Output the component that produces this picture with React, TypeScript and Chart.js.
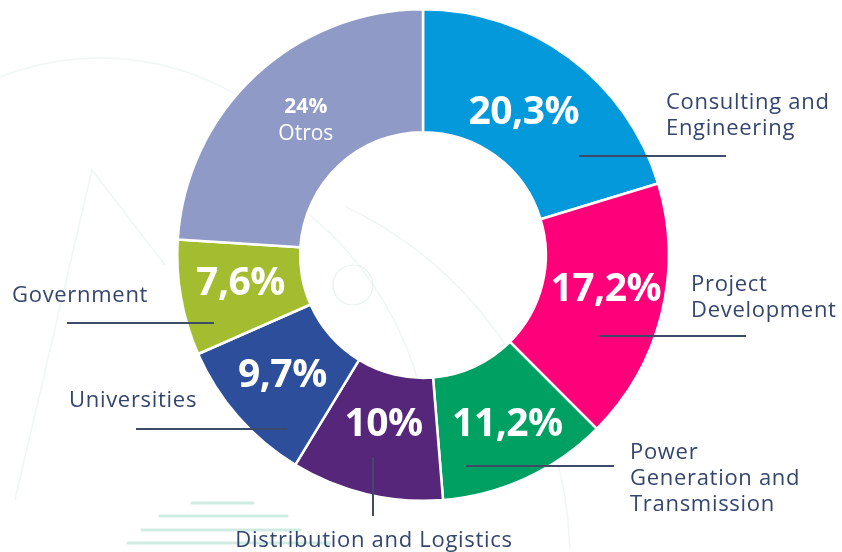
import React, { useEffect, useRef } from "react";
import { Chart, registerables } from "chart.js";

Chart.register(...registerables);

const categories = [
  "Consulting and Engineering",
  "Project Development",
  "Power Generation and Transmission",
  "Distribution and Logistics",
  "Universities",
  "Government",
  "Otros",
];
const values = [20.3, 17.2, 11.2, 10, 9.7, 7.6, 24];
const valueLabels = ["20,3%", "17,2%", "11,2%", "10%", "9,7%", "7,6%", "24%"];
const colors = ["#0399DB", "#FE0079", "#00A062", "#55267A", "#2D4E9A", "#A4BD30", "#8F9AC6"];

const outerLabelLines = [
  ["Consulting and", "Engineering"],
  ["Project", "Development"],
  ["Power", "Generation and", "Transmission"],
  ["Distribution and Logistics"],
  ["Universities"],
  ["Government"],
  [],
];

// annotation layout relative to chart centre (styling)
const labelOffsets = [
  { dx: -9, dy: 6 },
  { dx: 4, dy: -10 },
  { dx: 7, dy: 3 },
  { dx: 3, dy: -9 },
  { dx: -2, dy: -1 },
  { dx: -1, dy: -3 },
  { dx: 9, dy: 0 },
];
const outerText = [
  { x: 243, y: -152, align: "left" },
  { x: 268, y: 30, align: "left" },
  { x: 207, y: 198, align: "left" },
  { x: -49, y: 286, align: "center" },
  { x: -354, y: 146, align: "left" },
  { x: -411, y: 41, align: "left" },
  null,
];
const leaders = [
  { x1: 156, y1: -99, x2: 303, y2: -99 },
  { x1: 176, y1: 81, x2: 323, y2: 81 },
  { x1: 43, y1: 211, x2: 191, y2: 211 },
  { x1: -50, y1: 202, x2: -50, y2: 261 },
  { x1: -287, y1: 174, x2: -136, y2: 174 },
  { x1: -356, y1: 68, x2: -209, y2: 68 },
  null,
];

const decoPlugin = {
  id: "deco",
  beforeDraw(chart: any) {
    const ctx = chart.ctx;
    ctx.save();
    ctx.fillStyle = "#ffffff";
    ctx.fillRect(0, 0, chart.width, chart.height);
    ctx.strokeStyle = "rgba(220,235,232,0.45)";
    ctx.lineWidth = 1.5;
    ctx.beginPath();
    ctx.arc(100, 330, 272, Math.PI * 1.02, Math.PI * 1.75);
    ctx.stroke();
    ctx.beginPath();
    ctx.arc(100, 470, 330, Math.PI * 1.64, Math.PI * 1.98);
    ctx.stroke();
    ctx.beginPath();
    ctx.arc(180, 560, 390, Math.PI * 1.64, Math.PI * 1.99);
    ctx.stroke();
    ctx.beginPath();
    ctx.moveTo(15, 500);
    ctx.lineTo(92, 170);
    ctx.lineTo(165, 265);
    ctx.stroke();
    ctx.strokeStyle = "rgba(196,230,218,0.8)";
    ctx.lineWidth = 3;
    ctx.lineCap = "round";
    const stripes = [
      [192, 253, 503],
      [160, 287, 516],
      [142, 300, 530],
      [128, 330, 543],
    ];
    stripes.forEach(([a, b, y]) => {
      ctx.beginPath();
      ctx.moveTo(a, y);
      ctx.lineTo(b, y);
      ctx.stroke();
    });
    ctx.restore();
  },
  afterDatasetsDraw(chart: any) {
    const ctx = chart.ctx;
    ctx.save();
    ctx.strokeStyle = "rgba(215,232,228,0.6)";
    ctx.lineWidth = 1.2;
    ctx.beginPath();
    ctx.arc(353, 285, 20, 0, Math.PI * 2);
    ctx.stroke();
    ctx.restore();
  },
  afterDraw(chart: any) {
    const ctx = chart.ctx;
    const meta = chart.getDatasetMeta(0);
    const first = meta.data[0];
    const cx = first.x;
    const cy = first.y;
    ctx.save();
    ctx.textBaseline = "middle";
    meta.data.forEach((arc: any, i: number) => {
      const mid = (arc.startAngle + arc.endAngle) / 2;
      const r = (arc.innerRadius + arc.outerRadius) / 2;
      const x = cx + Math.cos(mid) * r + labelOffsets[i].dx;
      const y = cy + Math.sin(mid) * r + labelOffsets[i].dy;
      ctx.fillStyle = "#ffffff";
      ctx.textAlign = "center";
      if (i === 6) {
        ctx.font = "bold 21px 'Open Sans'";
        ctx.fillText(valueLabels[i], x, y - 14);
        ctx.font = "21px 'Open Sans'";
        ctx.fillText(categories[i], x, y + 13);
      } else {
        ctx.font = "bold 39px 'Open Sans'";
        (ctx as any).letterSpacing = "-0.5px";
        ctx.fillText(valueLabels[i], x, y);
        (ctx as any).letterSpacing = "0px";
      }
      const L = leaders[i];
      if (L) {
        ctx.strokeStyle = "#3D4B69";
        ctx.lineWidth = 2;
        ctx.beginPath();
        ctx.moveTo(cx + L.x1, cy + L.y1);
        ctx.lineTo(cx + L.x2, cy + L.y2);
        ctx.stroke();
      }
      const T = outerText[i];
      if (T) {
        ctx.fillStyle = "#34466E";
        ctx.font = "22px 'Open Sans'";
        (ctx as any).letterSpacing = "0.7px";
        ctx.textAlign = T.align as CanvasTextAlign;
        outerLabelLines[i].forEach((line, k) => {
          ctx.fillText(line, cx + T.x, cy + T.y + k * 26);
        });
        (ctx as any).letterSpacing = "0px";
      }
    });
    ctx.restore();
  },
};

export default function App() {
  const ref = useRef<HTMLCanvasElement>(null);
  useEffect(() => {
    document.body.style.margin = "0";
    const chart = new Chart(ref.current!, {
      type: "doughnut",
      data: {
        labels: categories,
        datasets: [
          {
            data: values,
            backgroundColor: colors,
            borderColor: "#ffffff",
            borderWidth: 2.5,
          },
        ],
      },
      options: {
        animation: false,
        responsive: false,
        cutout: "50%",
        layout: { padding: { left: 176, right: 172, top: 8, bottom: 50 } },
        plugins: { legend: { display: false }, tooltip: { enabled: false } },
      },
      plugins: [decoPlugin],
    });
    return () => chart.destroy();
  }, []);
  return (
    <div style={{ width: 842, height: 552 }}>
      <canvas ref={ref} width={842} height={552} style={{ display: "block" }} />
    </div>
  );
}
